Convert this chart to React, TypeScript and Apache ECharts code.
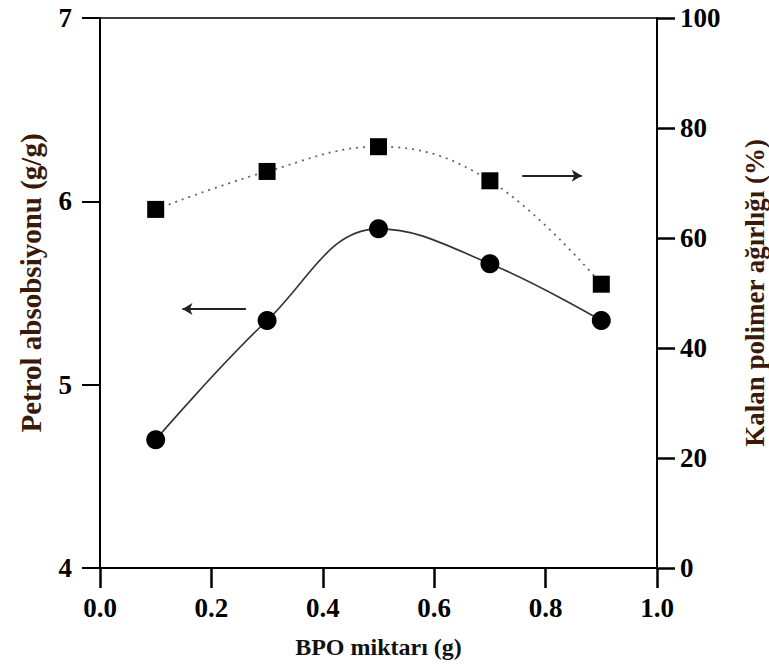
import React, { useEffect, useRef } from "react";
import * as echarts from "echarts";

const bpo = [0.1, 0.3, 0.5, 0.7, 0.9];
const petrolAbsorption = [4.7, 5.35, 5.85, 5.66, 5.35];
const remainingPolymer = [65.2, 72.1, 76.6, 70.4, 51.6];
const xTicks = { min: 0, max: 1, interval: 0.2 };
const leftTicks = { min: 4, max: 7, interval: 1 };
const rightTicks = { min: 0, max: 100, interval: 20 };
const leftArrow = [[0.262, 5.413], [0.148, 5.413]];
const rightArrow = [[0.758, 71.3], [0.865, 71.3]];

const FONT = "Liberation Serif";

export default function App() {
  const ref = useRef<HTMLDivElement>(null);
  useEffect(() => {
    if (!ref.current) return;
    const chart = echarts.init(ref.current, null, { renderer: "svg" });
    const axisLine = { show: true, lineStyle: { color: "#000", width: 2 } };
    chart.setOption({
      animation: false,
      backgroundColor: "#fff",
      textStyle: { fontFamily: FONT },
      grid: {
        left: 100, right: 112, top: 18, bottom: 100,
        containLabel: false,
        outerBoundsMode: "none",
        show: true, borderColor: "#000", borderWidth: 1.5,
      },
      xAxis: {
        type: "value",
        ...xTicks,
        name: "BPO miktarı (g)",
        nameLocation: "middle",
        nameGap: 67,
        nameTextStyle: { color: "#111", fontFamily: FONT, fontWeight: "bold", fontSize: 24, verticalAlign: "top" },
        axisLine,
        axisTick: { show: true, inside: false, length: 20, lineStyle: { color: "#000", width: 2.5 } },
        axisLabel: {
          show: true, color: "#000", fontFamily: FONT, fontWeight: "bold", fontSize: 27, margin: 26,
          formatter: (v: number) => v.toFixed(1),
        },
        splitLine: { show: false },
      },
      yAxis: [
        {
          type: "value",
          ...leftTicks,
          position: "left",
          name: "Petrol absobsiyonu (g/g)",
          nameLocation: "middle",
          nameGap: 55,
          nameTextStyle: { color: "#3a1a06", fontFamily: FONT, fontWeight: "bold", fontSize: 29, padding: [0, 0, 0, 20] },
          axisLine,
          axisTick: { show: true, length: 18, lineStyle: { color: "#000", width: 2 } },
          axisLabel: { show: true, color: "#000", fontFamily: FONT, fontWeight: "bold", fontSize: 27, margin: 28 },
          splitLine: { show: false },
        },
        {
          type: "value",
          ...rightTicks,
          position: "right",
          name: "Kalan polimer ağırlığı (%)",
          nameLocation: "middle",
          nameGap: 84,
          nameRotate: 90,
          nameTextStyle: { color: "#3a1a06", fontFamily: FONT, fontWeight: "bold", fontSize: 27 },
          axisLine,
          axisTick: { show: true, length: 18, lineStyle: { color: "#000", width: 2.5 } },
          axisLabel: { show: true, color: "#000", fontFamily: FONT, fontWeight: "bold", fontSize: 27, margin: 23 },
          splitLine: { show: false },
        },
      ],
      series: [
        {
          type: "line",
          yAxisIndex: 0,
          data: bpo.map((x, i) => [x, petrolAbsorption[i]]),
          smooth: 0.4,
          symbol: "circle",
          symbolSize: 19,
          itemStyle: { color: "#000" },
          lineStyle: { color: "#333", width: 1.6 },
          markLine: {
            silent: true,
            symbol: ["none", "arrow"],
            symbolSize: [9, 10],
            label: { show: false },
            lineStyle: { color: "#222", width: 2, type: "solid" },
            data: [[{ coord: leftArrow[0] }, { coord: leftArrow[1] }]],
          },
        },
        {
          type: "line",
          yAxisIndex: 1,
          data: bpo.map((x, i) => [x, remainingPolymer[i]]),
          smooth: 0.4,
          symbol: "rect",
          symbolSize: 17,
          itemStyle: { color: "#000" },
          lineStyle: { color: "#666", width: 1.8, type: [2, 5] },
          markLine: {
            silent: true,
            symbol: ["none", "arrow"],
            symbolSize: [9, 10],
            label: { show: false },
            lineStyle: { color: "#222", width: 2, type: "solid" },
            data: [[{ coord: rightArrow[0] }, { coord: rightArrow[1] }]],
          },
        },
      ],
    });
    return () => chart.dispose();
  }, []);
  return (
    <div
      ref={ref}
      style={{ position: "fixed", left: 0, top: 0, width: 769, height: 668, background: "#fff" }}
    />
  );
}
